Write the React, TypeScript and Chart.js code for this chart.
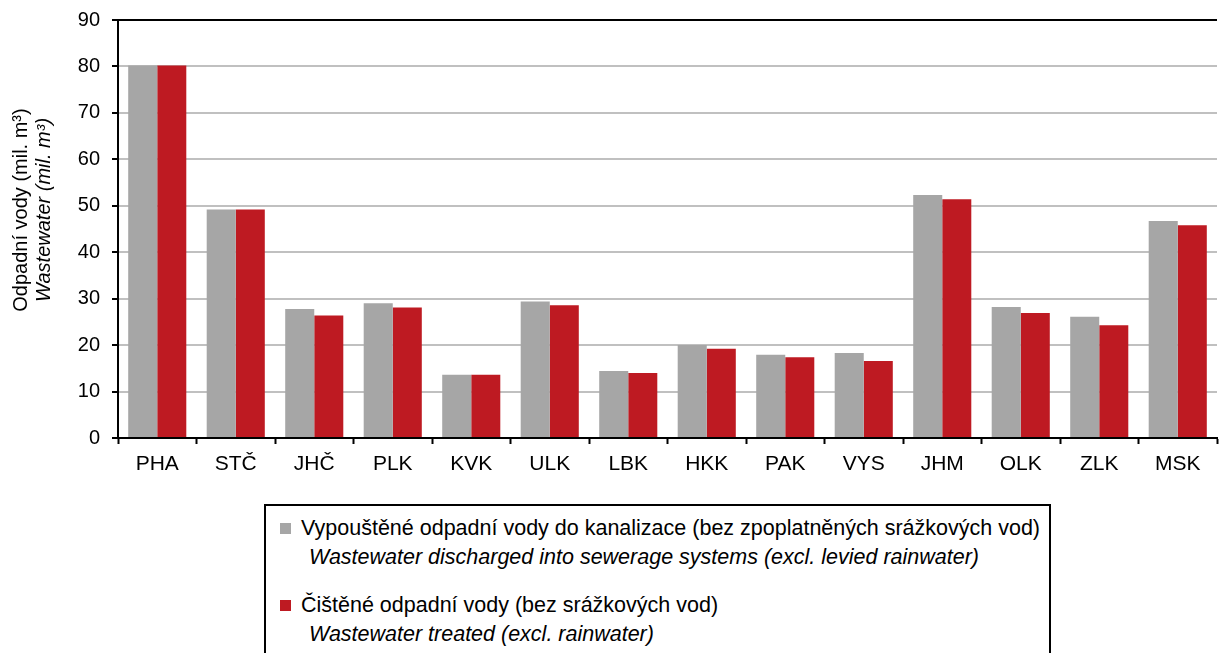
import React, { useEffect, useRef } from "react";
import { Chart, registerables } from "chart.js";

Chart.register(...registerables);

const categories = ["PHA", "STČ", "JHČ", "PLK", "KVK", "ULK", "LBK", "HKK", "PAK", "VYS", "JHM", "OLK", "ZLK", "MSK"];
const discharged = [80.2, 49.2, 27.8, 29.0, 13.6, 29.4, 14.4, 20.0, 17.9, 18.3, 52.3, 28.2, 26.1, 46.7];
const treated = [80.2, 49.2, 26.4, 28.1, 13.6, 28.6, 14.0, 19.2, 17.4, 16.6, 51.4, 26.9, 24.3, 45.8];
const yTicks = [0, 10, 20, 30, 40, 50, 60, 70, 80, 90];

const seriesLabels = [
  ["Vypouštěné odpadní vody do kanalizace (bez zpoplatněných srážkových vod)", "Wastewater discharged into sewerage systems (excl. levied rainwater)"],
  ["Čištěné odpadní vody (bez srážkových vod)", "Wastewater treated (excl. rainwater)"],
];
const yTitle = ["Odpadní vody (mil. m³)", "Wastewater (mil. m³)"];

const GRAY = "#a6a6a6";
const RED = "#be1a22";
const FONT = "'Liberation Sans', Arial, sans-serif";

const yTitlePlugin = {
  id: "yTitle",
  afterDraw(chart: any) {
    const ctx = chart.ctx;
    const cy = 210;
    ctx.save();
    ctx.fillStyle = "#000";
    ctx.textAlign = "center";
    ctx.textBaseline = "middle";
    ctx.translate(21, cy);
    ctx.rotate(-Math.PI / 2);
    ctx.font = `20px ${FONT}`;
    ctx.fillText(yTitle[0], 0, 0);
    ctx.font = `italic 20px ${FONT}`;
    ctx.fillText(yTitle[1], 0, 23);
    ctx.restore();
  },
};

export default function App() {
  const ref = useRef<HTMLCanvasElement>(null);
  useEffect(() => {
    document.body.style.margin = "0";
    const chart = new Chart(ref.current!, {
      type: "bar",
      data: {
        labels: categories,
        datasets: [
          { label: seriesLabels[0][0], data: discharged, backgroundColor: GRAY, categoryPercentage: 0.74, barPercentage: 1 },
          { label: seriesLabels[1][0], data: treated, backgroundColor: RED, categoryPercentage: 0.74, barPercentage: 1 },
        ],
      },
      options: {
        animation: false,
        responsive: false,
        maintainAspectRatio: false,
        layout: { padding: { top: 20, right: 2, left: 0, bottom: 0 } },
        plugins: { legend: { display: false }, tooltip: { enabled: false } },
        scales: {
          x: {
            offset: true,
            grid: { offset: true, drawOnChartArea: false, drawTicks: true, tickLength: 6, tickColor: "#000", tickWidth: 2 },
            border: { color: "#000", width: 2 },
            ticks: { color: "#000", font: { family: FONT, size: 21 }, padding: 8, maxRotation: 0 },
            afterFit(scale: any) { scale.height = 52; scale.paddingLeft = 0; scale.paddingRight = 0; },
          },
          y: {
            min: 0,
            max: 90,
            afterBuildTicks(scale: any) { scale.ticks = yTicks.map((v) => ({ value: v })); },
            grid: {
              color: (c: any) => (c.tick && c.tick.value === 90 ? "#000" : "#c0c0c0"),
              lineWidth: 2,
              tickLength: 6,
              tickColor: "#000",
              tickWidth: 2,
            },
            border: { color: "#000", width: 2 },
            ticks: { color: "#000", font: { family: FONT, size: 20 }, padding: 12 },
            afterFit(scale: any) { scale.width = 118; scale.paddingTop = 0; scale.paddingBottom = 0; },
          },
        },
      },
      plugins: [yTitlePlugin],
    });
    return () => chart.destroy();
  }, []);

  const rowStyle: React.CSSProperties = { display: "flex", alignItems: "center", fontFamily: FONT, fontSize: 21.5, color: "#000", whiteSpace: "nowrap" };
  return (
    <div style={{ position: "relative", width: 1219, height: 653, overflow: "hidden", background: "#fff" }}>
      <canvas ref={ref} width={1219} height={490} style={{ position: "absolute", left: 0, top: 0, width: 1219, height: 490 }} />
      <div style={{ position: "absolute", left: 264, top: 504, width: 787, height: 170, border: "2px solid #000", boxSizing: "border-box", background: "#fff" }}>
        {seriesLabels.map((lab, i) => (
          <div key={i} style={{ position: "absolute", left: 14, top: i === 0 ? 10 : 87 }}>
            <div style={{ ...rowStyle, height: 24 }}>
              <span style={{ display: "inline-block", width: 11, height: 11, background: i === 0 ? GRAY : RED, marginRight: 10 }} />
              <span>{lab[0]}</span>
            </div>
            <div style={{ ...rowStyle, height: 24, marginTop: 5, paddingLeft: 29, fontStyle: "italic" }}>{lab[1]}</div>
          </div>
        ))}
      </div>
    </div>
  );
}
